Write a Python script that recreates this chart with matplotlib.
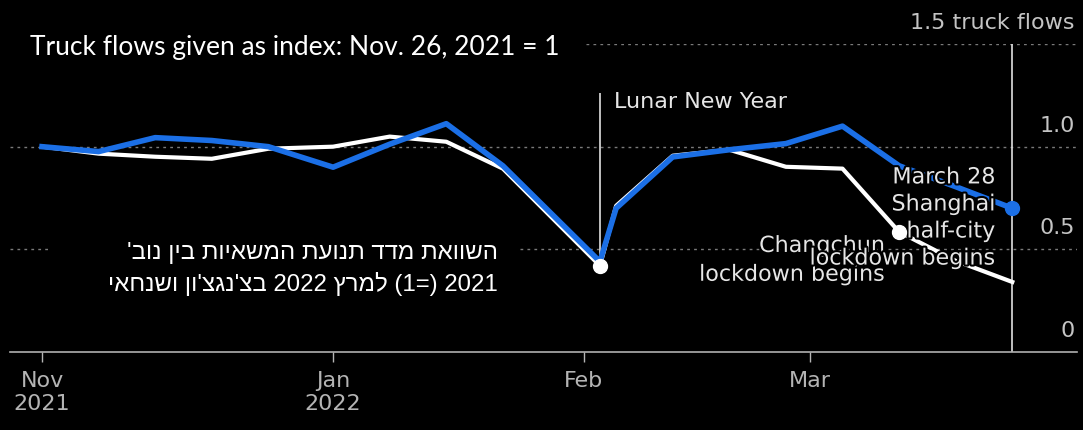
import numpy as np
import matplotlib
matplotlib.use('Agg')
import matplotlib.pyplot as plt
import matplotlib.patheffects as pe

# weekly truck-flow index, Nov. 26, 2021 = 1
dates = np.array(['2021-11-26', '2021-12-03', '2021-12-10', '2021-12-17', '2021-12-24',
                  '2022-01-01', '2022-01-08', '2022-01-15', '2022-01-22', '2022-02-03',
                  '2022-02-05', '2022-02-12', '2022-02-19', '2022-02-26', '2022-03-05',
                  '2022-03-12', '2022-03-19', '2022-03-26'], dtype='datetime64[D]')
changchun = [1.0, 0.966, 0.951, 0.941, 0.99, 1.0, 1.049, 1.024, 0.893, 0.42,
             0.712, 0.956, 0.985, 0.902, 0.893, 0.585, 0.444, 0.341]
shanghai = [1.0, 0.976, 1.044, 1.03, 1.0, 0.90, 1.012, 1.112, 0.907, 0.44,
            0.70, 0.95, 0.985, 1.015, 1.10, 0.907, 0.805, 0.70]

tick_dates = np.array(['2021-11-26', '2022-01-01', '2022-02-01', '2022-03-01'], dtype='datetime64[D]')
tick_labels = ['Nov\n2021', 'Jan\n2022', 'Feb', 'Mar']
y_levels = [0, 0.5, 1.0, 1.5]
y_labels = ['0', '0.5', '1.0', '1.5 truck flows']

title = 'Truck flows given as index: Nov. 26, 2021 = 1'
heb1 = "השוואת מדד תנועת המשאיות בין נוב'"
heb2 = "2021 (=1) למרץ 2022 בצ'נגצ'ון ושנחאי"

lny_i = 9       # Lunar New Year point
cc_i = 15       # Changchun lockdown point


def rtl(s):
    # matplotlib has no bidi support: put the words in visual order by hand
    out = []
    for w in s.split(' ')[::-1]:
        if any('\u0590' <= c <= '\u05ff' for c in w):
            out.append(w[::-1])
        elif '(' in w:
            out.append(w[::-1].translate(str.maketrans('()', ')(')))
        else:
            out.append(w)
    return ' '.join(out)


blue = '#1b6fe6'
W, H = 1083, 431
fig = plt.figure(figsize=(W / 100, H / 100), dpi=100, facecolor='black')
ax = fig.add_axes([10 / W, 78 / H, 1067 / W, 308 / H])
ax.set_facecolor('black')

ax.set_xlim(dates[0] - np.timedelta64(95, 'h'), dates[0] + np.timedelta64(128 * 24, 'h'))
ax.set_ylim(0, 1.5)

# dotted gridlines (partly hidden by the overlaid texts)
gkw = dict(color='#7a7a7a', lw=1.0, ls=(0, (2, 3)), zorder=1)
ax.axhline(1.0, **gkw)
ax.axhline(0.5, xmax=0.036, **gkw)
ax.axhline(0.5, xmin=0.478, **gkw)
ax.axhline(1.5, xmin=0.54, **gkw)

ax.plot(dates, changchun, color='white', lw=3.0, zorder=3, solid_joinstyle='round')
ax.plot(dates, shanghai, color=blue, lw=4.0, zorder=4, solid_joinstyle='round')

ax.vlines(dates[lny_i], changchun[lny_i], 1.26, color='#e0e0e0', lw=1.2, zorder=2)
ax.vlines(dates[-1], 0, 1.5, color='#e0e0e0', lw=1.2, zorder=2)

halo = [pe.withStroke(linewidth=3, foreground='black')]
ax.annotate('Lunar New Year', xy=(dates[lny_i], 1.224), xytext=(10, 0), textcoords='offset points',
            ha='left', va='center', fontsize=16, color='#e6e6e6')
ax.annotate('Changchun\nlockdown begins', xy=(dates[cc_i], changchun[cc_i]), xytext=(-10, -20.5),
            textcoords='offset points', ha='right', va='center', multialignment='right',
            fontsize=16, color='#e6e6e6', linespacing=1.55, path_effects=halo, zorder=5)
ax.annotate('March 28\nShanghai\nhalf-city\nlockdown begins', xy=(dates[-1], shanghai[-1]),
            xytext=(-12, -7), textcoords='offset points', ha='right', va='center',
            multialignment='right', fontsize=16, color='#e6e6e6', linespacing=1.44,
            path_effects=halo, zorder=5)

ax.plot(dates[lny_i], changchun[lny_i], 'o', color='white', ms=10, zorder=6)
ax.plot(dates[cc_i], changchun[cc_i], 'o', color='white', ms=10, zorder=6)
ax.plot(dates[-1], shanghai[-1], 'o', color=blue, ms=10, zorder=6)

# y labels sit above their gridlines, on the right
for v, lab in zip(y_levels, y_labels):
    ax.annotate(lab, xy=(1, v), xycoords=('axes fraction', 'data'), xytext=(-1.5, 11.5),
                textcoords='offset points', ha='right', va='baseline', fontsize=16,
                color='#c4c4c4', annotation_clip=False)

ax.set_yticks([])
ax.set_xticks(tick_dates)
ax.set_xticklabels(tick_labels)
ax.tick_params(axis='x', colors='#b4b4b4', length=7, width=1, pad=6, labelsize=16)
for s in ['top', 'left', 'right']:
    ax.spines[s].set_visible(False)
ax.spines['bottom'].set_color('#b0b0b0')
ax.spines['bottom'].set_linewidth(1.2)

fig.text(30 / W, 1 - 48 / H, title, family=['Lato', 'DejaVu Sans'], fontsize=19,
         color='white', ha='left', va='center')
fig.text(498 / W, 1 - 269 / H, rtl(heb1) + '\n' + rtl(heb2), family=['Liberation Sans', 'DejaVu Sans'],
         fontsize=17.3, color='white', ha='right', va='center', multialignment='right',
         linespacing=1.45)

fig.savefig('out.png', dpi=100, facecolor='black')
